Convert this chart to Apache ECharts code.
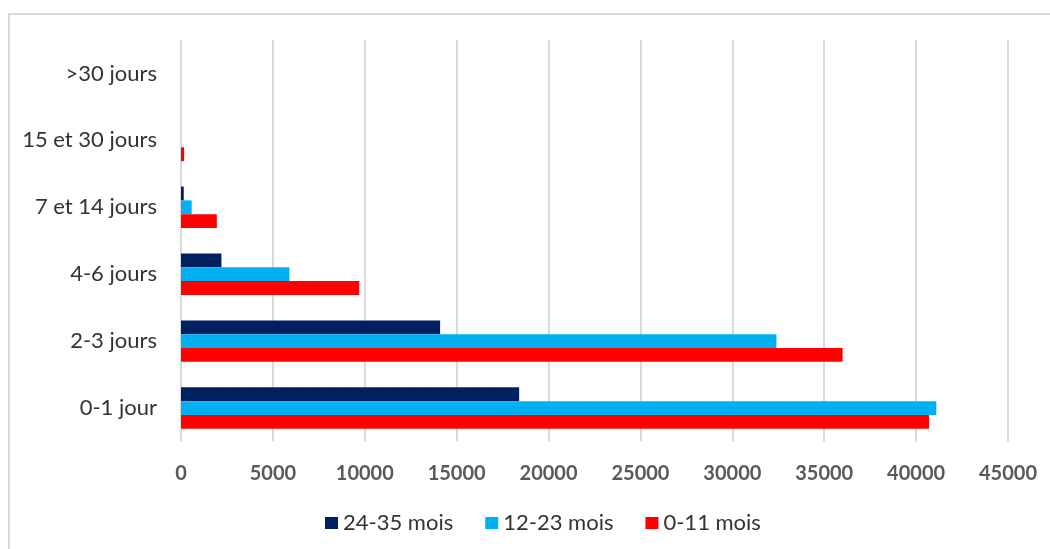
<!DOCTYPE html>
<html>
<head>
<meta charset="utf-8">
<script src="https://cdn.jsdelivr.net/npm/echarts@6/dist/echarts.min.js"></script>
<style>
html,body{margin:0;padding:0;background:#fff;}
#frame{position:absolute;left:8px;top:13px;width:1100px;height:600px;border-top:2px solid #d9d9d9;border-left:2px solid #d9d9d9;}
#chart{position:absolute;left:0;top:0;width:1050px;height:549px;}
</style>
</head>
<body>
<div id="frame"></div>
<div id="chart"></div>
<script>
const categories = ['0-1 jour', '2-3 jours', '4-6 jours', '7 et 14 jours', '15 et 30 jours', '>30 jours'];
const seriesNames = ['24-35 mois', '12-23 mois', '0-11 mois'];
const mois24_35 = [18400, 14100, 2200, 150, 0, 0];
const mois12_23 = [41100, 32400, 5900, 580, 0, 0];
const mois0_11 = [40700, 36000, 9700, 1950, 170, 0];
const xTicks = [0, 5000, 10000, 15000, 20000, 25000, 30000, 35000, 40000, 45000];

const colors = {'24-35 mois': '#002060', '12-23 mois': '#00B0F0', '0-11 mois': '#FF0000'};
const chart = echarts.init(document.getElementById('chart'));
const mk = (name, data) => ({
  name: name, type: 'bar', data: data,
  itemStyle: {color: colors[name]},
  barGap: '0%', barCategoryGap: '38%'
});
chart.setOption({
  animation: false,
  grid: {left: 181, right: 42, top: 40, bottom: 107.5, containLabel: false},
  legend: {
    data: seriesNames, left: 320, top: 507,
    icon: 'rect', itemWidth: 13, itemHeight: 12, itemGap: 32,
    textStyle: {fontFamily: 'Lato', fontSize: 22, color: '#333333'}
  },
  xAxis: {
    type: 'value', min: xTicks[0], max: xTicks[xTicks.length - 1], interval: 5000,
    axisLine: {show: false}, axisTick: {show: false},
    splitLine: {show: true, lineStyle: {color: '#d9d9d9', width: 2}},
    axisLabel: {margin: 22, fontFamily: 'Lato', fontWeight: 'bold', fontSize: 20, color: '#595959',
      formatter: v => String(v)}
  },
  yAxis: {
    type: 'category', data: categories,
    axisLine: {show: false}, axisTick: {show: false},
    axisLabel: {margin: 24, fontFamily: 'Lato', fontSize: 22, color: '#333333'}
  },
  series: [mk('24-35 mois', mois24_35), mk('12-23 mois', mois12_23), mk('0-11 mois', mois0_11)]
});
</script>
</body>
</html>
